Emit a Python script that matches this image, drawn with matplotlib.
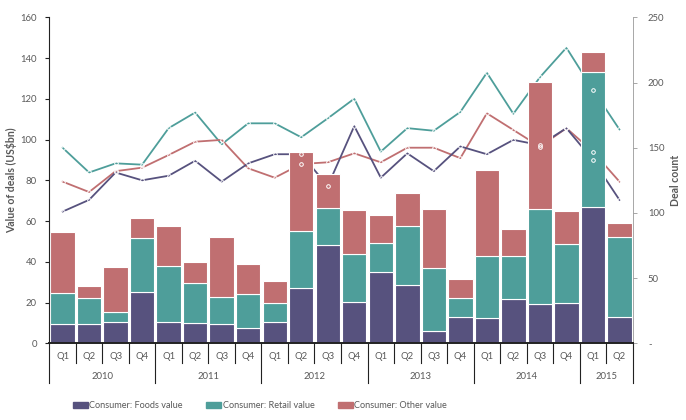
import matplotlib
matplotlib.use("Agg")
import matplotlib.pyplot as plt
from matplotlib.patches import Patch
import matplotlib.transforms as mtransforms

plt.rcParams['font.family'] = ['Lato', 'DejaVu Sans']

quarters = ["Q1", "Q2", "Q3", "Q4"] * 5 + ["Q1", "Q2"]
years = ["2010", "2011", "2012", "2013", "2014", "2015"]
year_sizes = [4, 4, 4, 4, 4, 2]

# bar values (US$bn), stacked
foods_value = [9.3, 9.5, 10.6, 25.3, 10.6, 10.1, 9.3, 7.7, 10.6, 27.3, 48.2, 20.4,
               35.1, 28.6, 6.2, 13.1, 12.6, 21.6, 19.1, 19.9, 67.1, 12.8]
retail_top = [24.8, 22.1, 15.5, 51.8, 37.9, 29.4, 22.6, 24.0, 19.6, 55.3, 66.4, 43.7,
              49.1, 57.7, 36.8, 22.1, 42.8, 42.8, 66.1, 48.6, 133.2, 52.0]
total_top = [54.8, 28.3, 37.6, 61.3, 57.6, 39.9, 52.0, 38.8, 30.6, 93.7, 82.9, 65.4,
             63.0, 73.9, 66.1, 31.6, 85.0, 56.3, 128.1, 65.1, 143.1, 59.0]
retail_value = [r - f for r, f in zip(retail_top, foods_value)]
other_value = [t - r for t, r in zip(total_top, retail_top)]

# deal counts (right axis)
foods_count = [101, 110, 131, 125, 128.5, 140, 124, 138, 145, 145, 120.6, 166.6,
               127, 145.7, 132, 151, 145, 156, 152, 165, 140.6, 110]
retail_count = [150, 131, 138, 137, 165, 177, 152.6, 168.7, 168.7, 158, 172.5, 187.6,
                147, 165, 163, 177.4, 207.5, 176, 204, 226.7, 194.5, 164]
other_count = [124, 116, 132, 134.7, 144.4, 154.6, 156, 134.2, 127, 137.5, 138.8, 145.7,
               138.8, 150, 150, 142, 176.4, 163.6, 150.8, 165, 147, 124]

c_foods = "#57527e"
c_retail = "#4e9e9a"
c_other = "#c06f71"
grey = "#595959"

fig = plt.figure(figsize=(6.86, 4.2), dpi=100)
ax = fig.add_axes([0.0719, 0.1826, 0.8504, 0.7762])
ax2 = ax.twinx()
# bars sit above the lines
ax.set_zorder(ax2.get_zorder() + 1)
ax.patch.set_visible(False)

x = list(range(len(quarters)))
ax.bar(x, foods_value, width=0.92, color=c_foods, edgecolor="white", linewidth=0.8)
ax.bar(x, retail_value, bottom=foods_value, width=0.92, color=c_retail, edgecolor="white", linewidth=0.8)
ax.bar(x, other_value, bottom=retail_top, width=0.92, color=c_other, edgecolor="white", linewidth=0.8)

for vals, col in [(retail_count, c_retail), (other_count, c_other), (foods_count, c_foods)]:
    ax2.plot(x, vals, color=col, lw=1.3)
    # small white ring markers, drawn on top of bars
    ax.plot(x, vals, transform=ax2.transData, ls="none", marker="o", ms=2.6,
            mfc="none", mec="white", mew=0.7, zorder=5)

ax.set_xlim(-0.5, len(x) - 0.5)
ax.set_ylim(0, 160)
ax.set_yticks(range(0, 161, 20))
ax2.set_ylim(0, 250)
ax2.set_yticks(range(0, 251, 50))
ax2.set_yticklabels(["-"] + [str(v) for v in range(50, 251, 50)])

ax.tick_params(axis="y", colors=grey, labelsize=6.8, length=3, width=0.8, pad=6)
ax.tick_params(axis="y", color="#222222")
ax2.tick_params(axis="y", colors=grey, labelsize=6.8, length=3, width=0.6, pad=8)
ax2.tick_params(axis="y", color="#999999")
ax.set_xticks([])
ax2.set_xticks([])

for a in (ax, ax2):
    a.spines["top"].set_visible(False)
ax.spines["right"].set_visible(False)
ax2.spines["left"].set_visible(False)
ax2.spines["bottom"].set_visible(False)
ax.spines["left"].set_color("#222222")
ax.spines["bottom"].set_color("#222222")
ax.spines["bottom"].set_linewidth(1.4)
ax2.spines["right"].set_color("#999999")
ax2.spines["right"].set_linewidth(0.6)

ax.set_ylabel("Value of deals (US$bn)", color=grey, fontsize=7.6, fontweight="bold", labelpad=2)
ax2.set_ylabel("Deal count", color=grey, fontsize=7.6, fontweight="bold", labelpad=4)

# two-level category axis
trans = mtransforms.blended_transform_factory(ax.transData, ax.transAxes)
for i, q in enumerate(quarters):
    ax.text(i, -0.041, q, transform=trans, ha="center", va="center", fontsize=6.8, color=grey)
year_edges = [-0.5]
for n in year_sizes:
    year_edges.append(year_edges[-1] + n)
for i in range(len(x) + 1):
    b = i - 0.5
    low = -0.122 if b in year_edges else -0.06
    ax.plot([b, b], [0, low], transform=trans, color="#222222", lw=0.8, clip_on=False)
for y, a0, a1 in zip(years, year_edges[:-1], year_edges[1:]):
    ax.text((a0 + a1) / 2, -0.1025, y, transform=trans, ha="center", va="center",
            fontsize=6.8, color=grey)

handles = [Patch(color=c_foods, label="Consumer: Foods value"),
           Patch(color=c_retail, label="Consumer: Retail value"),
           Patch(color=c_other, label="Consumer: Other value")]
fig.legend(handles=handles, loc="center", bbox_to_anchor=(0.379, 0.034), ncol=3,
           frameon=False, fontsize=6.6, labelcolor=grey, handlelength=1.6,
           handleheight=0.6, handletextpad=0.15, columnspacing=2.6)

fig.savefig("out.png", dpi=100)
